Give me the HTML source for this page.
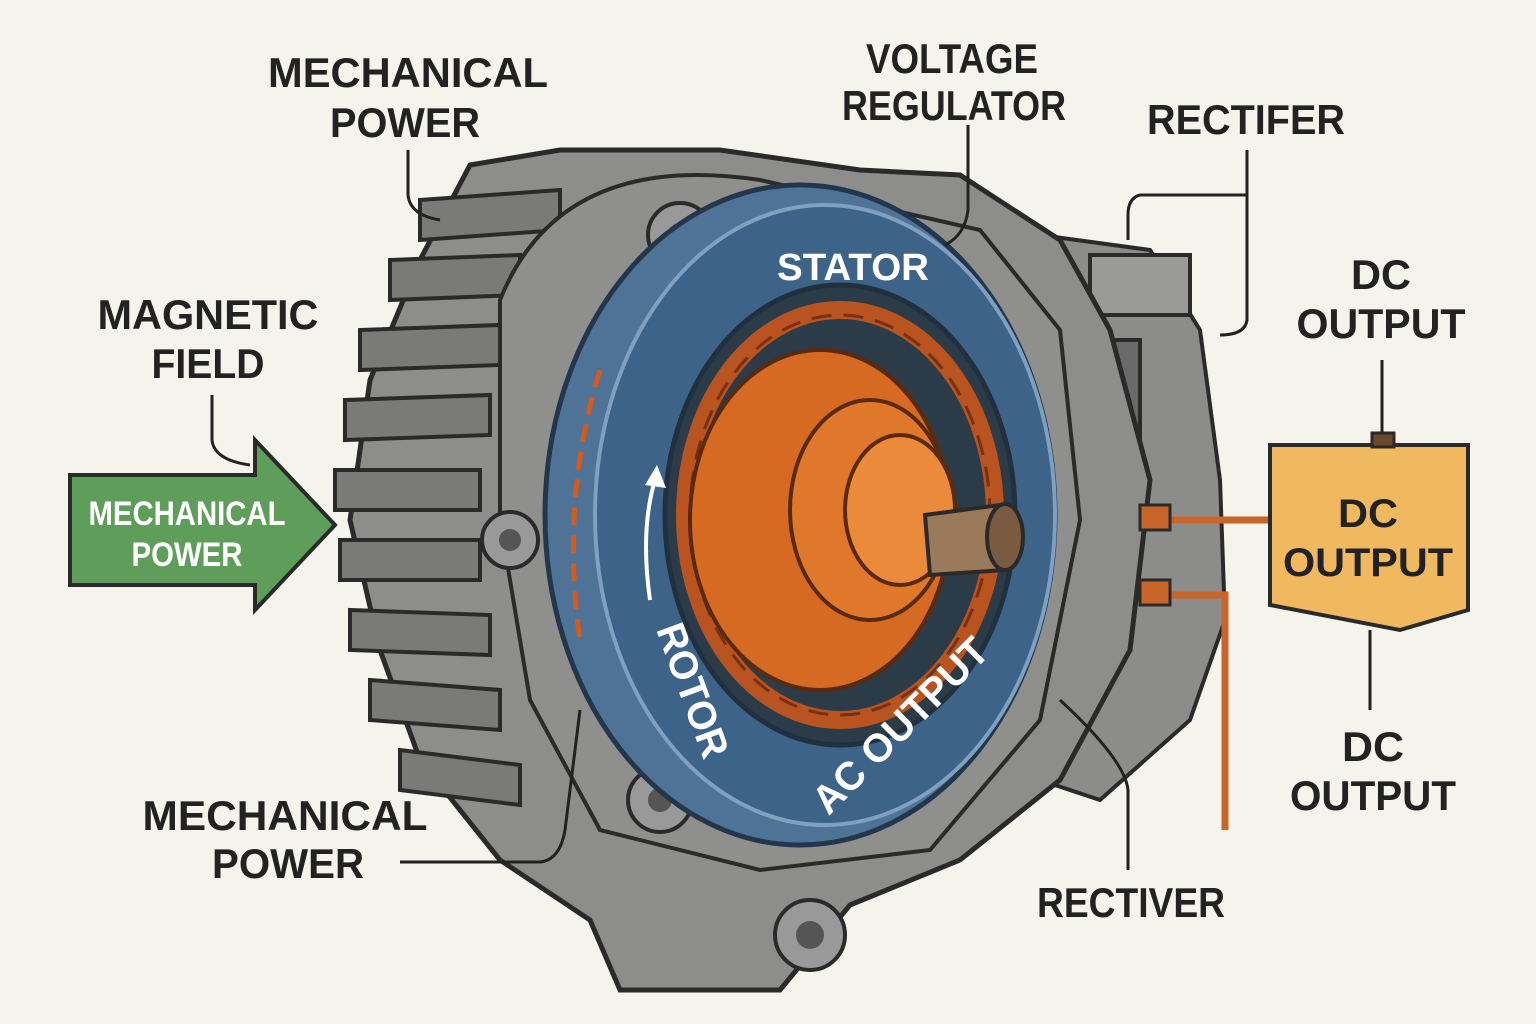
<!DOCTYPE html>
<html><head><meta charset="utf-8"><style>
html,body{margin:0;padding:0;background:#f4f3ec;}
svg{display:block}
text{font-family:"Liberation Sans Narrow","Liberation Sans",sans-serif;font-weight:bold;}
</style></head><body>
<svg width="1536" height="1024" viewBox="0 0 1536 1024" xmlns="http://www.w3.org/2000/svg">
<rect width="1536" height="1024" fill="#f4f3ec"/>
<path d="M1040 235 L1150 250 L1200 330 L1220 480 L1225 620 L1190 720 L1100 800 L1040 780 Z" fill="#8c8c8a" stroke="#2a2a2a" stroke-width="4"/>
<rect x="1090" y="255" width="100" height="60" fill="#9a9a98" stroke="#2a2a2a" stroke-width="4"/>
<rect x="1100" y="340" width="40" height="110" fill="#6a6a6a" stroke="#2a2a2a" stroke-width="4"/>
<path d="M470 165 L560 150 L720 150 L860 170 L960 175 L1060 240 L1110 330 L1150 480 L1130 650 L1060 780 L960 860 L850 905 L780 990 L620 990 L590 920 L500 860 L420 760 L380 650 L350 520 L370 380 L420 260 Z" fill="#8d8d8b" stroke="#2a2a2a" stroke-width="5"/>
<g fill="#7a7a78" stroke="#2a2a2a" stroke-width="4">
<path d="M420 200 L560 190 L560 230 L420 240Z"/>
<path d="M390 260 L520 255 L520 295 L390 300Z"/>
<path d="M360 330 L500 325 L500 365 L360 370Z"/>
<path d="M345 400 L490 395 L490 435 L345 440Z"/>
<path d="M335 470 L480 470 L480 510 L335 510Z"/>
<path d="M340 540 L480 540 L480 580 L340 580Z"/>
<path d="M350 610 L490 615 L490 655 L350 650Z"/>
<path d="M370 680 L500 690 L500 730 L370 720Z"/>
<path d="M400 750 L520 765 L520 805 L400 790Z"/>
</g>
<path d="M500 300 Q560 150 760 180 L980 230 L1060 330 L1080 520 L1040 720 L930 850 L760 870 L600 830 L530 700 L500 520 Z" fill="#8f8f8d" stroke="#2a2a2a" stroke-width="4"/>
<circle cx="680" cy="235" r="32" fill="#999" stroke="#2a2a2a" stroke-width="4"/><circle cx="680" cy="235" r="12" fill="#555"/>
<circle cx="510" cy="540" r="28" fill="#999" stroke="#2a2a2a" stroke-width="4"/><circle cx="510" cy="540" r="11" fill="#555"/>
<circle cx="660" cy="800" r="32" fill="#999" stroke="#2a2a2a" stroke-width="4"/><circle cx="660" cy="800" r="12" fill="#555"/>
<circle cx="810" cy="935" r="35" fill="#999" stroke="#2a2a2a" stroke-width="4"/><circle cx="810" cy="935" r="14" fill="#555"/>
<ellipse cx="800" cy="515" rx="255" ry="330" fill="#4f7397" stroke="#23364c" stroke-width="5"/>
<ellipse cx="825" cy="515" rx="230" ry="310" fill="#3e6388" stroke="#7fa0c0" stroke-width="4"/>
<ellipse cx="840" cy="515" rx="175" ry="230" fill="#2c3b48" stroke="#20303f" stroke-width="5"/>
<ellipse cx="840" cy="515" rx="155" ry="205" fill="none" stroke="#b9531f" stroke-width="18"/>
<ellipse cx="840" cy="515" rx="150" ry="200" fill="none" stroke="#7a2f10" stroke-width="3" stroke-dasharray="20 12"/>
<ellipse cx="820" cy="520" rx="130" ry="170" fill="#d76a22" stroke="#5a2a0e" stroke-width="4"/>
<ellipse cx="870" cy="510" rx="80" ry="110" fill="#e0782c" stroke="#5a2a0e" stroke-width="4"/>
<ellipse cx="900" cy="510" rx="55" ry="75" fill="#ea8a3a" stroke="#5a2a0e" stroke-width="4"/>
<path d="M925 515 L1000 505 L1005 570 L930 575Z" fill="#9a7a5a" stroke="#2a2a2a" stroke-width="4"/>
<ellipse cx="1005" cy="537" rx="18" ry="33" fill="#7a5a40" stroke="#2a2a2a" stroke-width="4"/>
<path d="M600 370 Q560 500 580 640" fill="none" stroke="#d45a20" stroke-width="5" stroke-dasharray="18 10"/>
<path d="M650 600 Q640 530 655 480" fill="none" stroke="#fff" stroke-width="4"/>
<path d="M645 485 L657 465 L666 488Z" fill="#fff"/>
<text x="853" y="280" font-size="38" fill="#fff" text-anchor="middle" textLength="152" lengthAdjust="spacingAndGlyphs">STATOR</text>
<text x="680" y="695" font-size="40" fill="#fff" text-anchor="middle" transform="rotate(70 680 695)" textLength="140" lengthAdjust="spacingAndGlyphs">ROTOR</text>
<text x="910" y="735" font-size="40" fill="#fff" text-anchor="middle" transform="rotate(-45 910 735)" textLength="230" lengthAdjust="spacingAndGlyphs">AC OUTPUT</text>
<path d="M1160 520 L1270 520" stroke="#c8652a" stroke-width="7" fill="none"/>
<path d="M1160 595 L1225 595 L1225 830" stroke="#c8652a" stroke-width="7" fill="none"/>
<rect x="1140" y="505" width="30" height="25" fill="#c8652a" stroke="#2a2a2a" stroke-width="3"/>
<rect x="1140" y="580" width="30" height="25" fill="#c8652a" stroke="#2a2a2a" stroke-width="3"/>
<path d="M1270 445 L1468 445 L1468 610 L1400 630 L1270 605 Z" fill="#f0b960" stroke="#2a2a2a" stroke-width="4"/>
<rect x="1372" y="433" width="22" height="14" fill="#6a4a30" stroke="#2a2a2a" stroke-width="3"/>
<text x="1368" y="527" font-size="40" fill="#222" text-anchor="middle" textLength="60" lengthAdjust="spacingAndGlyphs">DC</text>
<text x="1368" y="576" font-size="40" fill="#222" text-anchor="middle" textLength="170" lengthAdjust="spacingAndGlyphs">OUTPUT</text>
<path d="M70 475 L255 475 L255 440 L335 525 L255 610 L255 585 L70 585 Z" fill="#5e9e5a" stroke="#2a2a2a" stroke-width="4"/>
<text x="187" y="525" font-size="34" fill="#fff" text-anchor="middle" textLength="197" lengthAdjust="spacingAndGlyphs">MECHANICAL</text>
<text x="187" y="566" font-size="34" fill="#fff" text-anchor="middle" textLength="111" lengthAdjust="spacingAndGlyphs">POWER</text>
<g fill="none" stroke="#222" stroke-width="3">
<path d="M408 150 L408 195 Q410 215 440 220"/>
<path d="M212 395 L212 440 Q214 460 250 465"/>
<path d="M968 125 L968 210 Q965 235 945 245"/>
<path d="M1247 150 L1247 320 Q1245 335 1220 335"/>
<path d="M1247 195 L1140 195 Q1128 198 1128 215 L1128 240"/>
<path d="M1382 360 L1382 432"/>
<path d="M1370 630 L1370 710"/>
<path d="M400 862 L540 862 Q560 860 565 830 L580 710"/>
<path d="M1128 870 L1128 790 Q1125 760 1060 700"/>
</g>
<g font-size="42" fill="#222" text-anchor="middle">
<text x="408" y="87" textLength="280" lengthAdjust="spacingAndGlyphs">MECHANICAL</text>
<text x="405" y="137" textLength="150" lengthAdjust="spacingAndGlyphs">POWER</text>
<text x="952" y="73" textLength="172" lengthAdjust="spacingAndGlyphs">VOLTAGE</text>
<text x="954" y="120" textLength="224" lengthAdjust="spacingAndGlyphs">REGULATOR</text>
<text x="1246" y="134" textLength="198" lengthAdjust="spacingAndGlyphs">RECTIFER</text>
<text x="1381" y="289" textLength="60" lengthAdjust="spacingAndGlyphs">DC</text>
<text x="1381" y="338" textLength="169" lengthAdjust="spacingAndGlyphs">OUTPUT</text>
<text x="208" y="329" textLength="221" lengthAdjust="spacingAndGlyphs">MAGNETIC</text>
<text x="208" y="378" textLength="113" lengthAdjust="spacingAndGlyphs">FIELD</text>
<text x="285" y="830" textLength="285" lengthAdjust="spacingAndGlyphs">MECHANICAL</text>
<text x="288" y="878" textLength="152" lengthAdjust="spacingAndGlyphs">POWER</text>
<text x="1131" y="917" textLength="188" lengthAdjust="spacingAndGlyphs">RECTIVER</text>
<text x="1373" y="761" textLength="62" lengthAdjust="spacingAndGlyphs">DC</text>
<text x="1373" y="810" textLength="166" lengthAdjust="spacingAndGlyphs">OUTPUT</text>
</g>
</svg>
</body></html>
